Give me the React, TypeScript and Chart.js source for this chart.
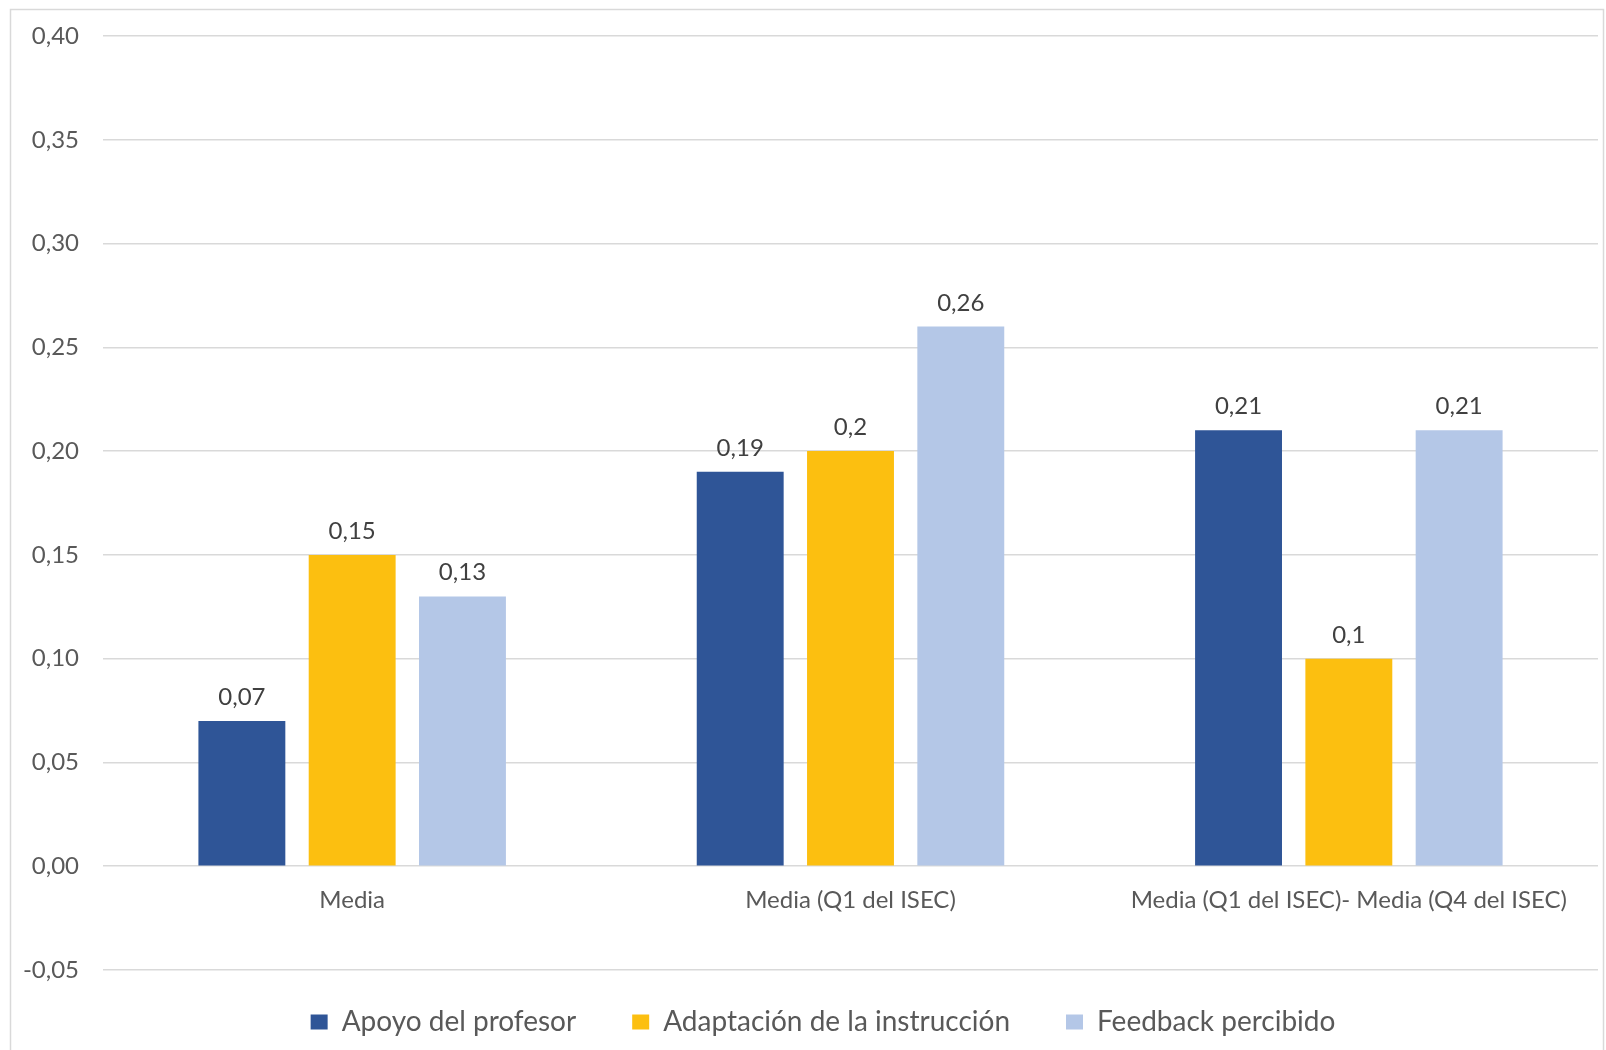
import React, { useEffect, useRef } from "react";
import { Chart, registerables } from "chart.js";

Chart.register(...registerables);

const categories = ["Media", "Media (Q1 del ISEC)", "Media (Q1 del ISEC)- Media (Q4 del ISEC)"];
const seriesNames = ["Apoyo del profesor", "Adaptación de la instrucción", "Feedback percibido"];
const apoyoProfesor = [0.07, 0.19, 0.21];
const adaptacionInstruccion = [0.15, 0.2, 0.1];
const feedbackPercibido = [0.13, 0.26, 0.21];
const seriesColors = ["#2F5597", "#FCBF10", "#B4C7E7"];
const yMin = -0.05;
const yMax = 0.4;
const yStep = 0.05;

const FONT = "Lato, 'Open Sans', sans-serif";
const TEXT_GRAY = "#595959";
const GRID_GRAY = "#D9D9D9";
const LEGEND_PADDING = 56;
const LEGEND_ROW_OFFSET = 18;
const LEGEND_SHIFT_X = 19;

const toComma = (v: number) => String(v).replace(".", ",");

// Value labels above each bar
const valueLabels = {
  id: "valueLabels",
  afterDatasetsDraw(chart: any) {
    const { ctx } = chart;
    ctx.save();
    ctx.font = `24px ${FONT}`;
    ctx.fillStyle = "#404040";
    ctx.textAlign = "center";
    ctx.textBaseline = "alphabetic";
    chart.data.datasets.forEach((ds: any, di: number) => {
      const meta = chart.getDatasetMeta(di);
      meta.data.forEach((bar: any, i: number) => {
        ctx.fillText(toComma(ds.data[i]), bar.x, bar.y - 16);
      });
    });
    ctx.restore();
  },
};

// Category names placed just under the zero line
const categoryLabels = {
  id: "categoryLabels",
  afterDraw(chart: any) {
    const { ctx } = chart;
    const xs = chart.scales.x;
    const ys = chart.scales.y;
    const y0 = ys.getPixelForValue(0);
    ctx.save();
    ctx.font = `24px ${FONT}`;
    ctx.fillStyle = TEXT_GRAY;
    ctx.textAlign = "center";
    ctx.textBaseline = "alphabetic";
    categories.forEach((c, i) => {
      ctx.fillText(c, xs.getPixelForValue(i), y0 + 42);
    });
    ctx.restore();
  },
};

// Thin frame around the whole chart; legend row lifted closer to the plot
const frame = {
  id: "frame",
  afterLayout(chart: any) {
    if (chart.legend) {
      chart.legend.top -= LEGEND_ROW_OFFSET;
      chart.legend.left += LEGEND_SHIFT_X;
      chart.legend.right += LEGEND_SHIFT_X;
    }
  },
  beforeDraw(chart: any) {
    const { ctx, width, height } = chart;
    ctx.save();
    ctx.fillStyle = "#FFFFFF";
    ctx.fillRect(0, 0, width, height);
    ctx.strokeStyle = GRID_GRAY;
    ctx.lineWidth = 1.5;
    ctx.strokeRect(10.5, 9.5, width - 13, height + 20);
    ctx.restore();
  },
};

export default function App() {
  const ref = useRef<HTMLCanvasElement | null>(null);

  useEffect(() => {
    document.body.style.margin = "0";
    if (!ref.current) return;
    const chart = new Chart(ref.current, {
      type: "bar",
      data: {
        labels: categories,
        datasets: [
          { label: seriesNames[0], data: apoyoProfesor, backgroundColor: seriesColors[0] },
          { label: seriesNames[1], data: adaptacionInstruccion, backgroundColor: seriesColors[1] },
          { label: seriesNames[2], data: feedbackPercibido, backgroundColor: seriesColors[2] },
        ],
      },
      options: {
        responsive: false,
        animation: false,
        layout: { padding: { left: 10, top: 36, right: 8, bottom: 0 } },
        datasets: {
          bar: { categoryPercentage: 0.664, barPercentage: 0.788 },
        },
        scales: {
          x: {
            display: false,
          },
          y: {
            min: yMin,
            max: yMax,
            border: { display: false },
            grid: { color: GRID_GRAY, lineWidth: 1.5, drawTicks: false },
            ticks: {
              stepSize: yStep,
              padding: 24,
              color: TEXT_GRAY,
              font: { family: FONT, size: 24 },
              callback: (v: any) => Number(v).toFixed(2).replace(".", ","),
            },
            afterFit: (s: any) => {
              s.width = 93;
              s.paddingTop = 0;
              s.paddingBottom = 0;
            },
          },
        },
        plugins: {
          tooltip: { enabled: false },
          legend: {
            position: "bottom",
            maxHeight: 80,
            labels: {
              boxWidth: 17,
              boxHeight: 15,
              padding: LEGEND_PADDING,
              color: TEXT_GRAY,
              font: { family: FONT, size: 28 },
            },
          },
        },
      },
      plugins: [frame, valueLabels, categoryLabels],
    });
    return () => chart.destroy();
  }, []);

  return (
    <div style={{ position: "absolute", left: 0, top: 0, width: 1606, height: 1050 }}>
      <canvas ref={ref} width={1606} height={1050} />
    </div>
  );
}
